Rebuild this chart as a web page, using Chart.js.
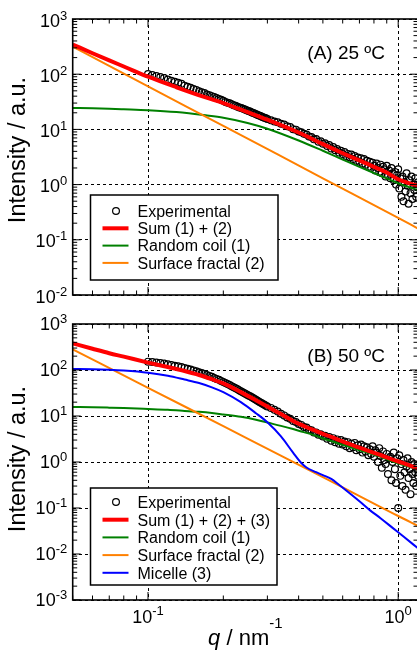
<!DOCTYPE html>
<html>
<head>
<meta charset="utf-8">
<script src="https://cdn.jsdelivr.net/npm/chart.js@4.4.0/dist/chart.umd.min.js"></script>
<style>
  body { margin: 0; background: #fff; width: 417px; height: 653px; overflow: hidden; position: relative; }
  .panel { position: absolute; left: 0; }
</style>
</head>
<body>
<div class="panel" style="top:0"><canvas id="chartA" width="430" height="305"></canvas></div>
<div class="panel" style="top:305px"><canvas id="chartB" width="430" height="348"></canvas></div>
<script>
const FONT = '"Liberation Sans", Arial, Helvetica, sans-serif';

// q values of the measured curve (nm^-1), shared by both panels
const qExp = [
  0.100, 0.104, 0.108, 0.112, 0.116, 0.120, 0.124, 0.128, 0.132, 0.136,
  0.140, 0.144, 0.148, 0.152, 0.156, 0.160, 0.164, 0.168, 0.172, 0.176,
  0.180, 0.184, 0.188, 0.192, 0.196, 0.200, 0.204, 0.208, 0.212, 0.216,
  0.220, 0.224, 0.228, 0.232, 0.236, 0.240, 0.244, 0.248, 0.252, 0.256,
  0.260, 0.264, 0.268, 0.272, 0.276, 0.280, 0.284, 0.288, 0.292, 0.296,
  0.300,
  0.31, 0.32, 0.33, 0.34, 0.35, 0.36, 0.37, 0.38, 0.39, 0.40,
  0.41, 0.42, 0.43, 0.44, 0.45, 0.46, 0.47, 0.48, 0.49, 0.50,
  0.51, 0.52, 0.53, 0.54, 0.55, 0.56, 0.57, 0.58, 0.59, 0.60,
  0.61, 0.62, 0.63, 0.64, 0.65, 0.66, 0.67, 0.68, 0.69, 0.70,
  0.71, 0.72, 0.73, 0.74, 0.75, 0.76, 0.77, 0.78, 0.79, 0.80,
  0.81, 0.82, 0.83, 0.84, 0.85, 0.86, 0.87, 0.88, 0.89, 0.90,
  0.91, 0.92, 0.93, 0.94, 0.95, 0.96, 0.97, 0.98, 0.99, 1.00,
  1.01, 1.02, 1.03, 1.04, 1.05, 1.06, 1.07, 1.08, 1.09, 1.10,
  1.11, 1.12, 1.13, 1.14, 1.15, 1.16, 1.17, 1.18, 1.19, 1.20
];

// (A) 25 C
const expA = [
  101, 97, 93, 89, 85, 80, 76, 73, 70, 67,
  62, 59, 57, 54, 52, 49, 47, 45.5, 43, 41.5,
  40, 38.5, 37, 35.5, 34.5, 33, 31.5, 30.5, 29.8, 28.5,
  27.5, 26.8, 25.8, 25, 24.3, 23.6, 23, 22.2, 21.5, 21,
  20.2, 19.8, 19.2, 18.6, 18.1, 17.7, 17.2, 16.6, 16.3, 15.9,
  15.4,
  14.6, 13.9, 13.5, 12.6, 12.3, 11.4, 11.0, 10.1, 9.9, 9.2,
  8.9, 8.3, 8.1, 7.4, 7.3, 6.6, 6.7, 6.0, 6.1, 5.5,
  5.6, 5.0, 5.2, 4.5, 4.8, 4.2, 4.4, 3.8, 4.1, 3.6,
  3.9, 3.3, 3.6, 3.1, 3.5, 2.9, 3.3, 2.7, 3.1, 2.6,
  3.0, 2.4, 2.9, 2.3, 2.7, 2.1, 2.6, 2.0, 2.5, 2.2,
  1.8, 2.4, 2.0, 1.7, 2.3, 1.6, 2.1, 1.9, 1.4, 2.2,
  1.5, 1.8, 1.3, 2.0, 1.6, 1.2, 1.7, 1.0, 1.5, 1.9,
  0.85, 1.3, 0.6, 1.4, 0.5, 1.1, 0.75, 1.6, 0.95, 0.45,
  1.2, 0.7, 1.4, 0.55, 1.0, 0.8, 1.3, 0.6, 0.9, 1.1
];
const qFitA = [0.05, 0.06, 0.07, 0.08, 0.1, 0.13, 0.17, 0.2, 0.25, 0.3, 0.4, 0.5, 0.6, 0.7, 0.8, 0.9, 1.0, 1.2];
const sumA = [345, 240, 178, 138, 90, 58, 38, 30, 20.5, 15, 8.8, 5.4, 3.7, 2.75, 2.1, 1.65, 1.25, 0.95];
const coilA = [24.4, 24.1, 23.7, 23.2, 22.3, 20.6, 18.0, 16.3, 13.1, 10.3, 6.3, 4.1, 2.85, 2.1, 1.62, 1.3, 1.05, 0.8];
const qFrac = [0.05, 0.1, 0.2, 0.5, 1.0, 1.2];
const fracA = [315, 60, 11.6, 1.3, 0.25, 0.16];

// (B) 50 C
const expB = [
  152, 149, 146, 142, 138, 133, 129, 124, 120, 116,
  111, 106, 102, 98, 94, 89, 86, 82, 78, 74,
  71, 67, 64, 61, 58, 55, 52, 49.5, 47, 44.5,
  42, 40, 38, 36, 34, 32.5, 31, 29.5, 28, 26.8,
  25.5, 24.2, 23, 22, 21, 20, 19.2, 18.3, 17.5, 16.8,
  16,
  15.0, 13.6, 12.5, 11.2, 10.3, 9.3, 8.7, 7.8, 7.4, 6.7,
  6.4, 5.8, 5.6, 5.0, 4.9, 4.4, 4.4, 3.9, 4.0, 3.6,
  3.7, 3.2, 3.5, 2.9, 3.3, 2.7, 3.1, 2.5, 3.0, 2.4,
  2.8, 2.2, 2.7, 2.0, 2.5, 2.1, 2.6, 1.8, 2.3, 1.9,
  2.4, 1.6, 2.2, 1.7, 2.1, 1.4, 1.9, 1.5, 2.2, 1.3,
  1.8, 1.6, 1.0, 2.0, 1.35, 0.75, 1.7, 1.1, 0.9, 1.5,
  0.55, 1.2, 1.3, 0.4, 1.0, 1.6, 0.7, 0.35, 1.2, 0.1,
  1.4, 0.5, 0.9, 0.3, 1.1, 0.6, 0.25, 0.8, 1.2, 0.45,
  0.7, 0.2, 1.0, 0.55, 0.35, 0.9, 0.6, 0.3, 0.75, 0.5
];
const qFitB = [0.05, 0.06, 0.07, 0.08, 0.1, 0.12, 0.14, 0.16, 0.18, 0.2, 0.235, 0.27, 0.3, 0.34,
  0.38, 0.41, 0.43, 0.47, 0.5, 0.54, 0.58, 0.62, 0.7, 0.77, 0.85, 0.95, 1.05, 1.2];
const sumB = [380, 290, 232, 195, 145, 116, 95, 78, 63, 51, 33, 22, 16, 11,
  7.8, 6.4, 5.7, 4.7, 4.1, 3.5, 3.0, 2.6, 2.05, 1.7, 1.42, 1.13, 0.94, 0.72];
const coilB = [15.7, 15.5, 15.2, 14.9, 14.2, 13.6, 12.9, 12.3, 11.6, 10.8, 9.6, 8.3, 7.2, 6.1,
  5.2, 4.6, 4.3, 3.7, 3.25, 2.85, 2.5, 2.25, 1.8, 1.55, 1.3, 1.02, 0.86, 0.68];
const micelleB = [105, 104, 101, 97, 87, 75, 62, 52, 42, 33, 20, 11.5, 7.3, 3.6,
  1.6, 0.95, 0.76, 0.6, 0.52, 0.43, 0.32, 0.24, 0.14, 0.09, 0.06, 0.037, 0.024, 0.0133];
const fracB = [282, 41, 6.0, 0.47, 0.067, 0.041];

// axes
const xTicks = [0.1, 1];
const xTickExp = ['-1', '0'];
const yTicksA = [1000, 100, 10, 1, 0.1, 0.01];
const yTickExpA = ['3', '2', '1', '0', '-1', '-2'];
const yTicksB = [1000, 100, 10, 1, 0.1, 0.01, 0.001];
const yTickExpB = ['3', '2', '1', '0', '-1', '-2', '-3'];

function pts(xs, ys) {
  return xs.map((x, i) => ({ x: x, y: ys[i] }));
}

function expSet(ys) {
  return {
    label: 'Experimental', data: pts(qExp, ys), showLine: false,
    pointRadius: 3.4, pointBorderWidth: 1.2, pointBorderColor: '#000',
    pointBackgroundColor: 'rgba(0,0,0,0)', borderColor: '#000', order: 5
  };
}

function lineSet(label, xs, ys, color, width, order) {
  return {
    label: label, data: pts(xs, ys), showLine: true, borderColor: color,
    backgroundColor: color, borderWidth: width, pointRadius: 0,
    cubicInterpolationMode: 'monotone', order: order
  };
}

// draws "10" with a raised exponent
function drawPow(ctx, exp, x, y, align, size, expSize, rise) {
  ctx.font = size + 'px ' + FONT;
  const wb = ctx.measureText('10').width;
  ctx.font = expSize + 'px ' + FONT;
  const we = ctx.measureText(exp).width;
  const left = align === 'right' ? x - wb - we : x - (wb + we) / 2;
  ctx.textAlign = 'left';
  ctx.textBaseline = 'alphabetic';
  ctx.font = size + 'px ' + FONT;
  ctx.fillText('10', left, y);
  ctx.font = expSize + 'px ' + FONT;
  ctx.fillText(exp, left + wb, y - rise);
}

const decor = {
  id: 'decor',
  afterDatasetsDraw(chart, args, o) {
    const ctx = chart.ctx, a = chart.chartArea;
    const xs = chart.scales.x, ys = chart.scales.y;
    ctx.save();
    ctx.fillStyle = '#000';
    ctx.strokeStyle = '#000';

    // inward ticks on all four sides
    ctx.lineWidth = 1;
    ctx.beginPath();
    for (let e = Math.floor(Math.log10(ys.min)); e < Math.log10(ys.max); e++) {
      for (let m = 1; m < 10; m++) {
        const v = m * Math.pow(10, e);
        if (v < ys.min * 0.999 || v > ys.max * 1.001) continue;
        const py = ys.getPixelForValue(v);
        const len = m === 1 ? 8 : 4.5;
        ctx.moveTo(a.left, py); ctx.lineTo(a.left + len, py);
        ctx.moveTo(a.right, py); ctx.lineTo(a.right - len, py);
      }
    }
    for (let e = -2; e <= 0; e++) {
      for (let m = 1; m < 10; m++) {
        const v = m * Math.pow(10, e);
        if (v < xs.min || v > xs.max) continue;
        const px = xs.getPixelForValue(v);
        const len = m === 1 ? 8 : 4.5;
        ctx.moveTo(px, a.top); ctx.lineTo(px, a.top + len);
        ctx.moveTo(px, a.bottom); ctx.lineTo(px, a.bottom - len);
      }
    }
    ctx.stroke();

    // frame
    ctx.lineWidth = 1.6;
    ctx.strokeRect(a.left, a.top, a.right - a.left, a.bottom - a.top);

    // y tick labels
    o.yTicks.forEach((v, i) => {
      const py = ys.getPixelForValue(v);
      drawPow(ctx, o.yExp[i], a.left - 5.5, py + o.labelDy, 'right', 18, 13, 7);
    });

    // x tick labels and title
    if (o.xLabels) {
      xTicks.forEach((v, i) => {
        drawPow(ctx, xTickExp[i], xs.getPixelForValue(v), a.bottom + 23, 'center', 18, 13, 8);
      });
      ctx.font = '22px ' + FONT;
      const w1 = ctx.measureText(' / nm').width;
      ctx.font = 'italic 22px ' + FONT;
      const wq = ctx.measureText('q').width;
      ctx.font = '15px ' + FONT;
      const we = ctx.measureText('-1').width;
      let x0 = (a.left + a.right) / 2 - (wq + w1 + we) / 2;
      const by = a.bottom + 45;
      ctx.textAlign = 'left';
      ctx.font = 'italic 22px ' + FONT;
      ctx.fillText('q', x0, by);
      ctx.font = '22px ' + FONT;
      ctx.fillText(' / nm', x0 + wq, by);
      ctx.font = '15px ' + FONT;
      ctx.fillText('-1', x0 + wq + w1, by - 17);
    }

    // y title
    ctx.save();
    ctx.translate(19, (a.top + a.bottom) / 2 - o.titleShift);
    ctx.rotate(-Math.PI / 2);
    ctx.font = '23.5px ' + FONT;
    ctx.textAlign = 'center';
    ctx.textBaseline = 'middle';
    ctx.fillText('Intensity / a.u.', 0, 0);
    ctx.restore();

    // panel annotation
    ctx.font = '19px ' + FONT;
    ctx.textAlign = 'right';
    ctx.textBaseline = 'alphabetic';
    ctx.fillText(o.note, 385, a.top + o.noteDy);

    // legend
    const L = o.legend;
    ctx.fillStyle = '#fff';
    ctx.fillRect(L.x, L.y, L.w, L.h);
    ctx.lineWidth = 1.5;
    ctx.strokeRect(L.x, L.y, L.w, L.h);
    ctx.font = '16px ' + FONT;
    ctx.textAlign = 'left';
    chart.data.datasets.forEach((ds, i) => {
      const cy = L.y + L.first + i * L.step;
      if (ds.showLine) {
        ctx.strokeStyle = ds.borderColor;
        ctx.lineWidth = ds.borderWidth;
        ctx.beginPath();
        ctx.moveTo(L.x + 12, cy);
        ctx.lineTo(L.x + 38, cy);
        ctx.stroke();
      } else {
        ctx.strokeStyle = '#000';
        ctx.lineWidth = 1.2;
        ctx.beginPath();
        ctx.arc(L.x + 25.5, cy, 3.4, 0, Math.PI * 2);
        ctx.stroke();
      }
      ctx.fillStyle = '#000';
      ctx.fillText(ds.label, L.x + 47, cy + 5.8);
    });
    ctx.restore();
  }
};

function makeChart(id, datasets, yMin, yTicks, pad, opts) {
  return new Chart(document.getElementById(id), {
    type: 'scatter',
    data: { datasets: datasets },
    options: {
      responsive: false,
      devicePixelRatio: 1,
      animation: false,
      events: [],
      layout: { padding: pad },
      plugins: { legend: { display: false }, tooltip: { enabled: false }, decor: opts },
      scales: {
        x: {
          type: 'logarithmic', min: 0.05, max: 1.2,
          afterBuildTicks: s => { s.ticks = xTicks.map(v => ({ value: v })); },
          afterFit: s => { s.height = 0; },
          ticks: { display: false },
          grid: { color: '#000', lineWidth: 1, drawTicks: false },
          border: { display: false, dash: [3, 3] }
        },
        y: {
          type: 'logarithmic', min: yMin, max: 1000,
          afterBuildTicks: s => { s.ticks = yTicks.map(v => ({ value: v })); },
          afterFit: s => { s.width = 0; },
          ticks: { display: false },
          grid: { color: '#000', lineWidth: 1, drawTicks: false },
          border: { display: false, dash: [3, 3] }
        }
      }
    },
    plugins: [decor]
  });
}

makeChart('chartA', [
  expSet(expA),
  lineSet('Sum (1) + (2)', qFitA, sumA, '#ff0000', 4, 0),
  lineSet('Random coil (1)', qFitA, coilA, '#008000', 2, 2),
  lineSet('Surface fractal (2)', qFrac, fracA, '#ff8000', 2, 1)
], 0.01, yTicksA, { left: 72.7, top: 19, right: 12, bottom: 10 }, {
  yTicks: yTicksA, yExp: yTickExpA, labelDy: 7.5, xLabels: false, titleShift: 7,
  note: '(A) 25 \u00baC', noteDy: 39.5,
  legend: { x: 90.5, y: 195, w: 187.5, h: 85, first: 16, step: 17.3 }
});

makeChart('chartB', [
  expSet(expB),
  lineSet('Sum (1) + (2) + (3)', qFitB, sumB, '#ff0000', 4, 0),
  lineSet('Random coil (1)', qFitB, coilB, '#008000', 2, 3),
  lineSet('Surface fractal (2)', qFrac, fracB, '#ff8000', 2, 2),
  lineSet('Micelle (3)', qFitB, micelleB, '#0000ff', 2, 1)
], 0.001, yTicksB, { left: 72.7, top: 19, right: 12, bottom: 53 }, {
  yTicks: yTicksB, yExp: yTickExpB, labelDy: 6, xLabels: true, titleShift: 3,
  note: '(B) 50 \u00baC', noteDy: 37.5,
  legend: { x: 90.5, y: 183, w: 186.5, h: 97, first: 14, step: 17.7 }
});
</script>
</body>
</html>
